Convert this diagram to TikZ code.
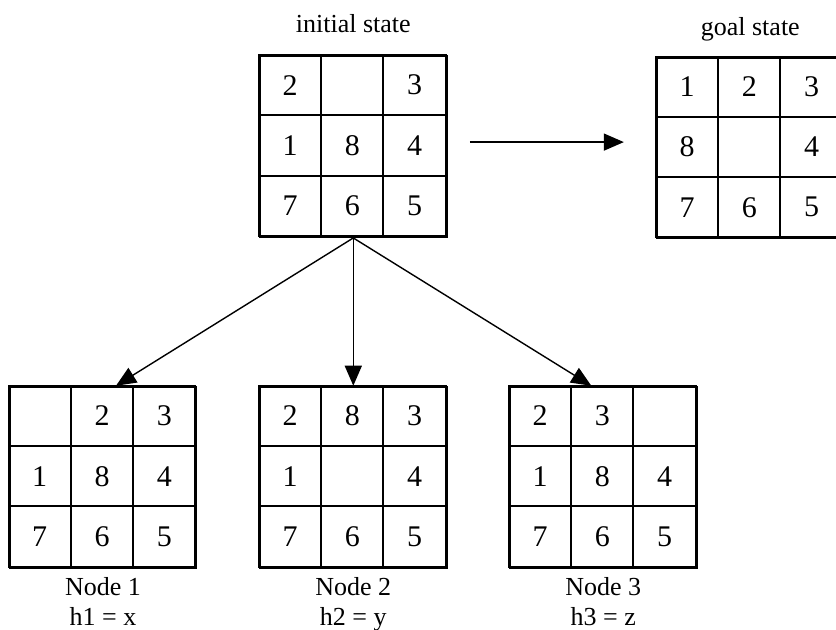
\documentclass[tikz,border=0pt]{standalone}
\usepackage{fontspec}
\setmainfont{Liberation Serif}
\usetikzlibrary{positioning,calc,arrows.meta}

\tikzset{
	board/.style={draw, line width=1pt, minimum width=93.45pt, minimum height=90.45pt, inner sep=0pt},
	tile/.style={draw, line width=1pt, minimum width=31.15pt, minimum height=30.15pt, inner sep=0pt, font=\fontsize{15}{18}\selectfont},
	title/.style={inner sep=0pt, text depth=0pt, font=\fontsize{13}{15}\selectfont},
	caption/.style={inner sep=0pt, align=center, font=\fontsize{13}{15}\selectfont},
	move/.style={-{Triangle[length=10pt,width=8.5pt]}, line width=0.7pt}
}

% board: name, centre, the nine tiles row by row
\newcommand{\puzzle}[3]{
	\node[board] (#1) at #2 {};
	\foreach \v [count=\k from 0] in {#3} {
		\pgfmathtruncatemacro{\col}{mod(\k,3)}
		\pgfmathtruncatemacro{\row}{div(\k,3)}
		\node[tile] (#1-\k) at ($(#1.north west)+(\col*62.3+31.15,\row*60.3+30.15)$) {\v};
	}
}

\begin{document}
\begin{tikzpicture}[x=0.5pt, y=-0.5pt]
		\clip (0,0) rectangle (836,630);

		\puzzle{init}{(353.3,146.5)}{2,{},3,1,8,4,7,6,5}
		\puzzle{goal}{(750.3,148)}{1,2,3,8,{},4,7,6,5}
		\puzzle{n1}{(103,477.2)}{{},2,3,1,8,4,7,6,5}
		\puzzle{n2}{(353.3,477.2)}{2,8,3,1,{},4,7,6,5}
		\puzzle{n3}{(603.3,477.2)}{2,3,{},1,8,4,7,6,5}

		\node[title, above=11pt of init] (inittitle) {initial state};
		\node[title, above=10.5pt of goal] (goaltitle) {goal state};

		\node[caption, below=4pt of n1] (n1lab) {Node 1\\h1 = x};
		\node[caption, below=4pt of n2] (n2lab) {Node 2\\h2 = y};
		\node[caption, below=4pt of n3] (n3lab) {Node 3\\h3 = z};

		\coordinate (t1) at ($(n1.north)+(13,0)$);
		\coordinate (t3) at ($(n3.north)+(-12,0)$);
		\coordinate (a0) at ([xshift=11pt,yshift=2.2pt]init.east);

		\draw[move, shorten >=16pt] (a0) -- (a0 -| goal.west);
		\draw[move] (init.south) -- (t1);
		\draw[move] (init.south) -- (n2.north);
		\draw[move] (init.south) -- (t3);
	\end{tikzpicture}
\end{document}
